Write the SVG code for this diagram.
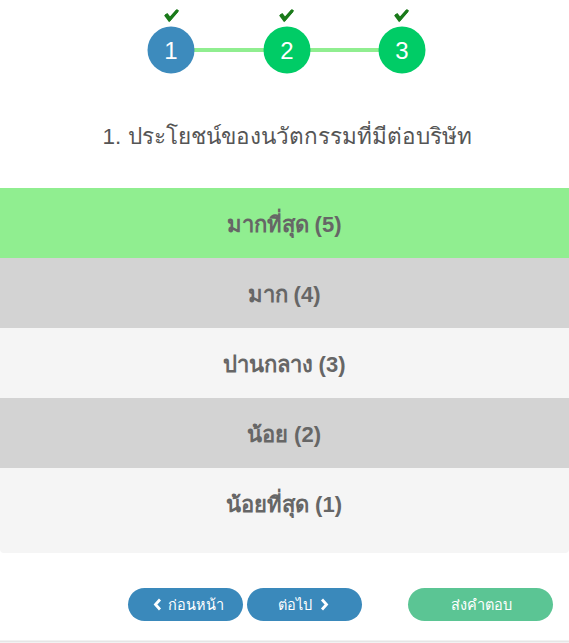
<svg xmlns="http://www.w3.org/2000/svg" width="569" height="643" viewBox="0 0 569 643">
<style>
.step{font-family:"Liberation Sans","Noto Sans",sans-serif;font-size:24px;fill:#fff;text-anchor:middle}
.title{font-family:"Liberation Sans","Noto Sans",sans-serif;font-size:22.5px;fill:#555;text-anchor:middle}
.opt{font-family:"Liberation Sans","Noto Sans",sans-serif;font-size:22px;font-weight:bold;fill:#666;text-anchor:middle}
.btn{font-family:"Liberation Sans","Noto Sans",sans-serif;font-size:14.5px;fill:#fff;text-anchor:middle}
.chk{fill:none;stroke:#1a7a1a;stroke-width:3;stroke-linecap:square}
.chev{fill:none;stroke:#fff;stroke-width:2.8}
</style>
<rect width="569" height="643" fill="#fff"/>
<g id="connectors">
<line x1="194" y1="50" x2="264" y2="50" stroke="#90ee90" stroke-width="4"/>
<line x1="310" y1="50" x2="379" y2="50" stroke="#90ee90" stroke-width="4"/>
</g>
<g id="step1">
<path class="chk" d="M167 15 L170 19 L177 11" stroke="#c8b400" transform="translate(-0.8,0.8)"/>
<path class="chk" d="M167 15 L170 19 L177 11"/>
<circle cx="171" cy="50" r="23.5" fill="#3d8bbd"/>
<text class="step" x="171" y="59">1</text>
</g>
<g id="step2">
<path class="chk" d="M282 15 L285 19 L292 11" stroke="#c8b400" transform="translate(-0.8,0.8)"/>
<path class="chk" d="M282 15 L285 19 L292 11"/>
<circle cx="287" cy="50" r="23.5" fill="#00cc66"/>
<text class="step" x="287" y="59">2</text>
</g>
<g id="step3">
<path class="chk" d="M397 15 L400 19 L407 11" stroke="#c8b400" transform="translate(-0.8,0.8)"/>
<path class="chk" d="M397 15 L400 19 L407 11"/>
<circle cx="402" cy="50" r="23.5" fill="#00cc66"/>
<text class="step" x="402" y="59">3</text>
</g>
<g id="title">
<text class="title" x="287" y="144">1. ประโยชน์ของนวัตกรรมที่มีต่อบริษัท</text>
</g>
<g id="opt5">
<rect x="0" y="188" width="569" height="70" fill="#90ee90"/>
<text class="opt" x="284" y="232">มากที่สุด (5)</text>
</g>
<g id="opt4">
<rect x="0" y="258" width="569" height="70" fill="#d3d3d3"/>
<text class="opt" x="284" y="302">มาก (4)</text>
</g>
<g id="opt3">
<rect x="0" y="328" width="569" height="70" fill="#f5f5f5"/>
<text class="opt" x="284" y="372">ปานกลาง (3)</text>
</g>
<g id="opt2">
<rect x="0" y="398" width="569" height="70" fill="#d3d3d3"/>
<text class="opt" x="284" y="442">น้อย (2)</text>
</g>
<g id="opt1">
<path d="M0 468 H569 V549 Q569 553 565 553 H4 Q0 553 0 549 Z" fill="#f5f5f5"/>
<text class="opt" x="284" y="512">น้อยที่สุด (1)</text>
</g>
<g id="btn-prev">
<rect x="128" y="588" width="115" height="33" rx="16.5" fill="#3a89bb"/>
<path class="chev" d="M160 599.5 L155.5 604.5 L160 609.5"/>
<text class="btn" x="196" y="610">ก่อนหน้า</text>
</g>
<g id="btn-next">
<rect x="247" y="588" width="115" height="33" rx="16.5" fill="#3a89bb"/>
<path class="chev" d="M322 599.5 L326.5 604.5 L322 609.5"/>
<text class="btn" x="295" y="610">ต่อไป</text>
</g>
<g id="btn-submit">
<rect x="408" y="588" width="145" height="33" rx="16.5" fill="#5bc594"/>
<text class="btn" x="481" y="610">ส่งคำตอบ</text>
</g>
<line x1="0" y1="641.5" x2="569" y2="641.5" stroke="#e6e6e6" stroke-width="2"/>
</svg>
